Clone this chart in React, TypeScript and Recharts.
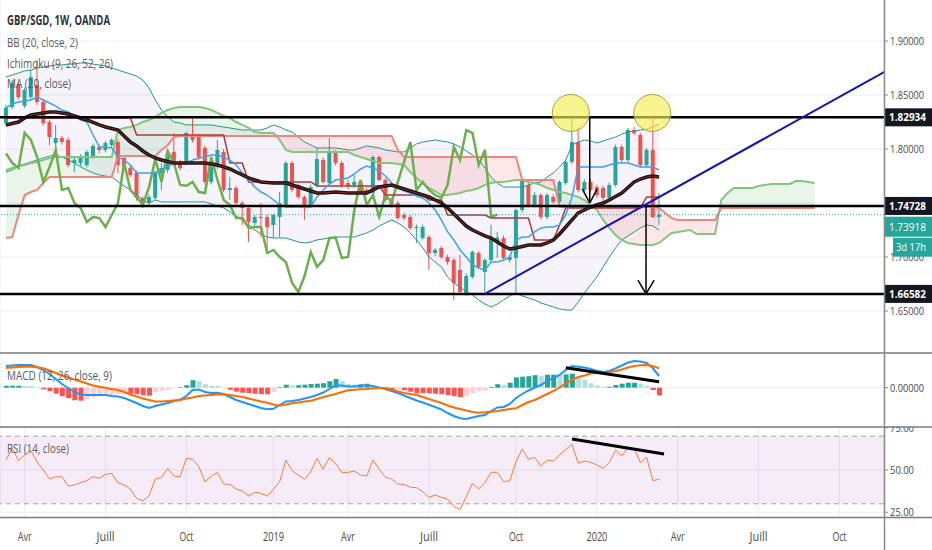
import React from 'react';
import {
  ComposedChart, Line, Area, Bar, Cell, XAxis, YAxis, CartesianGrid,
  ReferenceLine, ReferenceDot, ReferenceArea,
} from 'recharts';

// ---------- weekly candles (GBP/SGD, OANDA, 1W) ----------
const openP = [
  1.8241, 1.8389, 1.8593, 1.8400, 1.8482, 1.8593, 1.8436, 1.8250, 1.8056, 1.8102,
  1.8084, 1.7871, 1.7871, 1.7852, 1.7926, 1.8019, 1.7990, 1.8037, 1.8065, 1.7917,
  1.7824, 1.7778, 1.7547, 1.7500, 1.7547, 1.7778, 1.7806, 1.7973, 1.7880, 1.7871,
  1.8130, 1.8120, 1.8010, 1.7695, 1.7834, 1.7973, 1.7621, 1.7639, 1.7500, 1.7454,
  1.7315, 1.7371, 1.7371, 1.7297, 1.7371, 1.7482, 1.7871, 1.7667, 1.7556, 1.7482,
  1.7667, 1.7898, 1.7685, 1.7973, 1.7871, 1.7685, 1.7667, 1.7695, 1.7621, 1.7593,
  1.7926, 1.7713, 1.7528, 1.7500, 1.7389, 1.7371, 1.7269, 1.7176, 1.7185, 1.7037,
  1.7084, 1.7000, 1.6972, 1.6880, 1.6667, 1.6815, 1.7037, 1.6861, 1.6972, 1.7140,
  1.7176, 1.6972, 1.6991, 1.7435, 1.7667, 1.7482, 1.7574, 1.7371, 1.7556, 1.7510,
  1.7685, 1.7880, 1.8065, 1.7621, 1.7695, 1.7648, 1.7639, 1.7547, 1.7667, 1.8019,
  1.7898, 1.8176, 1.8130, 1.7852, 1.7991, 1.7371,
];
const highP = [
  1.8410, 1.8640, 1.8620, 1.8570, 1.8732, 1.8824, 1.8460, 1.8270, 1.8223, 1.8120,
  1.8110, 1.7920, 1.7950, 1.7990, 1.8050, 1.8040, 1.8075, 1.8100, 1.8090, 1.7935,
  1.7850, 1.7800, 1.7560, 1.7580, 1.7800, 1.7871, 1.7990, 1.8148, 1.7900, 1.8160,
  1.8297, 1.8140, 1.8030, 1.7850, 1.8084, 1.8000, 1.7741, 1.7660, 1.7520, 1.7470,
  1.7390, 1.7500, 1.7390, 1.7400, 1.7602, 1.7890, 1.7890, 1.7680, 1.7570, 1.7670,
  1.8010, 1.7920, 1.8102, 1.7990, 1.7890, 1.7710, 1.7760, 1.7710, 1.7640, 1.7940,
  1.7940, 1.7730, 1.7550, 1.7520, 1.7410, 1.7390, 1.7300, 1.7300, 1.7200, 1.7085,
  1.7100, 1.7020, 1.6990, 1.7019, 1.6850, 1.7060, 1.7055, 1.6990, 1.7297, 1.7232,
  1.7200, 1.7020, 1.7450, 1.7730, 1.7690, 1.7600, 1.7590, 1.7590, 1.7580, 1.7710,
  1.7900, 1.8297, 1.8195, 1.7720, 1.7720, 1.7670, 1.7660, 1.7690, 1.8040, 1.8040,
  1.8195, 1.8204, 1.8150, 1.8010, 1.8297, 1.7593,
];
const lowP = [
  1.8215, 1.8370, 1.8460, 1.8380, 1.8460, 1.8410, 1.8215, 1.8037, 1.7991, 1.8040,
  1.7830, 1.7787, 1.7840, 1.7830, 1.7910, 1.7960, 1.7970, 1.8010, 1.7778, 1.7810,
  1.7740, 1.7520, 1.7454, 1.7470, 1.7530, 1.7621, 1.7780, 1.7850, 1.7800, 1.7850,
  1.8060, 1.7900, 1.7670, 1.7670, 1.7810, 1.7600, 1.7528, 1.7480, 1.7297, 1.7139,
  1.7290, 1.7185, 1.7037, 1.7176, 1.7185, 1.7460, 1.7600, 1.7540, 1.7343, 1.7460,
  1.7650, 1.7680, 1.7670, 1.7850, 1.7640, 1.7630, 1.7640, 1.7580, 1.7570, 1.7560,
  1.7700, 1.7510, 1.7460, 1.7340, 1.7340, 1.7250, 1.7130, 1.7160, 1.6880, 1.7010,
  1.6980, 1.6930, 1.6602, 1.6650, 1.6640, 1.6800, 1.6890, 1.6676, 1.6950, 1.6991,
  1.6970, 1.6950, 1.6667, 1.7410, 1.7460, 1.7460, 1.7350, 1.7350, 1.7490, 1.7490,
  1.7670, 1.7860, 1.7600, 1.7600, 1.7600, 1.7550, 1.7520, 1.7520, 1.7650, 1.7870,
  1.7870, 1.8130, 1.7830, 1.7830, 1.7361, 1.7297,
];
const closeP = [
  1.8380, 1.8611, 1.8482, 1.8547, 1.8667, 1.8436, 1.8241, 1.8111, 1.8102, 1.8065,
  1.7852, 1.7898, 1.7926, 1.7973, 1.8028, 1.7991, 1.8056, 1.8084, 1.7852, 1.7834,
  1.7760, 1.7547, 1.7491, 1.7556, 1.7787, 1.7824, 1.7960, 1.7871, 1.7824, 1.8148,
  1.8084, 1.7926, 1.7695, 1.7834, 1.7991, 1.7621, 1.7639, 1.7500, 1.7454, 1.7324,
  1.7371, 1.7361, 1.7278, 1.7389, 1.7500, 1.7871, 1.7621, 1.7556, 1.7482, 1.7648,
  1.7908, 1.7695, 1.7982, 1.7871, 1.7667, 1.7660, 1.7695, 1.7602, 1.7593, 1.7926,
  1.7713, 1.7528, 1.7482, 1.7361, 1.7361, 1.7269, 1.7278, 1.7278, 1.7037, 1.7065,
  1.7000, 1.6954, 1.6759, 1.6676, 1.6824, 1.7047, 1.6908, 1.6972, 1.7176, 1.7180,
  1.6991, 1.7000, 1.7435, 1.7713, 1.7482, 1.7574, 1.7371, 1.7574, 1.7510, 1.7695,
  1.7880, 1.8065, 1.7621, 1.7695, 1.7621, 1.7574, 1.7547, 1.7667, 1.8019, 1.7898,
  1.8176, 1.8148, 1.7852, 1.7991, 1.7371, 1.7392,
];

// ---------- Bollinger Bands (20, close, 2) + MA (20, close) ----------
const bbUpper = [
  1.8667, 1.8686, 1.8704, 1.8723, 1.8732, 1.8750, 1.8760, 1.8769, 1.8778, 1.8778,
  1.8787, 1.8787, 1.8797, 1.8797, 1.8787, 1.8778, 1.8769, 1.8750, 1.8732, 1.8713,
  1.8695, 1.8676, 1.8639, 1.8565, 1.8454, 1.8361, 1.8297, 1.8250, 1.8241, 1.8223,
  1.8223, 1.8223, 1.8223, 1.8223, 1.8213, 1.8204, 1.8195, 1.8185, 1.8176, 1.8176,
  1.8176, 1.8176, 1.8195, 1.8223, 1.8204, 1.8176, 1.8158, 1.8111, 1.8065, 1.8037,
  1.8010, 1.8010, 1.8010, 1.8010, 1.8000, 1.7991, 1.7991, 1.8010, 1.8028, 1.8019,
  1.8010, 1.7991, 1.7982, 1.7973, 1.7973, 1.8010, 1.8047, 1.8065, 1.8074, 1.8084,
  1.8074, 1.8065, 1.8047, 1.8019, 1.7982, 1.7945, 1.7898, 1.7824, 1.7741, 1.7685,
  1.7648, 1.7648, 1.7648, 1.7648, 1.7667, 1.7685, 1.7695, 1.7741, 1.7778, 1.7834,
  1.7898, 1.8037, 1.8065, 1.8084, 1.8074, 1.8056, 1.8074, 1.8093, 1.8111, 1.8139,
  1.8158, 1.8167, 1.8176, 1.8185, 1.8204, 1.8232,
];
const bbLower = [
  1.7787, 1.7806, 1.7843, 1.7861, 1.7880, 1.7898, 1.7917, 1.7935, 1.7945, 1.7926,
  1.7898, 1.7871, 1.7834, 1.7806, 1.7778, 1.7760, 1.7750, 1.7741, 1.7695, 1.7658,
  1.7621, 1.7574, 1.7528, 1.7500, 1.7528, 1.7510, 1.7510, 1.7510, 1.7510, 1.7510,
  1.7510, 1.7510, 1.7510, 1.7491, 1.7472, 1.7454, 1.7417, 1.7380, 1.7343, 1.7297,
  1.7250, 1.7213, 1.7185, 1.7176, 1.7176, 1.7176, 1.7158, 1.7139, 1.7130, 1.7139,
  1.7158, 1.7167, 1.7176, 1.7185, 1.7185, 1.7185, 1.7185, 1.7204, 1.7222, 1.7250,
  1.7287, 1.7315, 1.7343, 1.7315, 1.7278, 1.7222, 1.7158, 1.7084, 1.7000, 1.6954,
  1.6908, 1.6815, 1.6759, 1.6722, 1.6676, 1.6648, 1.6602, 1.6565, 1.6537, 1.6565,
  1.6602, 1.6639, 1.6667, 1.6639, 1.6621, 1.6602, 1.6574, 1.6556, 1.6537, 1.6519,
  1.6509, 1.6509, 1.6583, 1.6667, 1.6741, 1.6815, 1.6908, 1.7000, 1.7084, 1.7158,
  1.7195, 1.7232, 1.7269, 1.7297, 1.7287, 1.7250,
];
const ma20 = [
  1.8223, 1.8236, 1.8250, 1.8287, 1.8315, 1.8324, 1.8334, 1.8343, 1.8343, 1.8334,
  1.8324, 1.8306, 1.8287, 1.8269, 1.8246, 1.8223, 1.8204, 1.8190, 1.8176, 1.8121,
  1.8065, 1.8028, 1.7982, 1.7945, 1.7917, 1.7898, 1.7884, 1.7871, 1.7871, 1.7871,
  1.7871, 1.7871, 1.7871, 1.7861, 1.7852, 1.7834, 1.7815, 1.7787, 1.7760, 1.7732,
  1.7713, 1.7695, 1.7690, 1.7685, 1.7685, 1.7685, 1.7667, 1.7648, 1.7630, 1.7611,
  1.7593, 1.7593, 1.7597, 1.7602, 1.7597, 1.7593, 1.7593, 1.7593, 1.7593, 1.7621,
  1.7648, 1.7658, 1.7667, 1.7648, 1.7630, 1.7611, 1.7593, 1.7574, 1.7556, 1.7528,
  1.7500, 1.7454, 1.7398, 1.7343, 1.7287, 1.7250, 1.7222, 1.7195, 1.7176, 1.7139,
  1.7102, 1.7074, 1.7084, 1.7097, 1.7111, 1.7111, 1.7111, 1.7130, 1.7158, 1.7213,
  1.7278, 1.7343, 1.7408, 1.7435, 1.7463, 1.7482, 1.7500, 1.7528, 1.7560, 1.7593,
  1.7644, 1.7695, 1.7722, 1.7741, 1.7750, 1.7741,
];

// ---------- Ichimoku (9, 26, 52, 26) ----------
const tenkan = [
  1.8380, 1.8417, 1.8436, 1.8445, 1.8454, 1.8482, 1.8454, 1.8426, 1.8398, 1.8361,
  1.8343, 1.8306, 1.8269, 1.8250, 1.8130, 1.8019, 1.8019, 1.8010, 1.7926, 1.7898,
  1.7852, 1.7778, 1.7778, 1.7778, 1.7778, 1.7806, 1.7834, 1.7871, 1.7871, 1.7871,
  1.7898, 1.7917, 1.7926, 1.7945, 1.7945, 1.7926, 1.7898, 1.7852, 1.7778, 1.7713,
  1.7648, 1.7602, 1.7574, 1.7528, 1.7482, 1.7463, 1.7463, 1.7463, 1.7463, 1.7463,
  1.7556, 1.7621, 1.7676, 1.7713, 1.7722, 1.7732, 1.7769, 1.7815, 1.7843, 1.7824,
  1.7797, 1.7750, 1.7685, 1.7639, 1.7611, 1.7593, 1.7565, 1.7547, 1.7500, 1.7435,
  1.7343, 1.7232, 1.7158, 1.7065, 1.7000, 1.6926, 1.6898, 1.6880, 1.6954, 1.6954,
  1.6972, 1.7000, 1.7158, 1.7185, 1.7185, 1.7232, 1.7269, 1.7278, 1.7278, 1.7297,
  1.7389, 1.7556, 1.7834, 1.7834, 1.7834, 1.7834, 1.7834, 1.7852, 1.7871, 1.7871,
  1.7871, 1.7852, 1.7834, 1.7834, 1.7834, 1.7806,
];
const kijun = [
  1.8287, 1.8287, 1.8287, 1.8287, 1.8287, 1.8287, 1.8287, 1.8287, 1.8287, 1.8287,
  1.8287, 1.8287, 1.8287, 1.8287, 1.8287, 1.8287, 1.8287, 1.8287, 1.8287, 1.8287,
  1.8287, 1.8130, 1.8130, 1.8130, 1.8130, 1.8130, 1.8130, 1.8130, 1.8130, 1.8130,
  1.8130, 1.8130, 1.8130, 1.8130, 1.8130, 1.8130, 1.7871, 1.7871, 1.7871, 1.7695,
  1.7695, 1.7695, 1.7695, 1.7695, 1.7695, 1.7695, 1.7695, 1.7695, 1.7695, 1.7695,
  1.7658, 1.7658, 1.7658, 1.7658, 1.7658, 1.7658, 1.7658, 1.7658, 1.7658, 1.7658,
  1.7658, 1.7574, 1.7574, 1.7574, 1.7574, 1.7574, 1.7574, 1.7574, 1.7528, 1.7528,
  1.7528, 1.7389, 1.7389, 1.7389, 1.7389, 1.7389, 1.7389, 1.7389, 1.7361, 1.7361,
  1.7361, 1.7361, 1.7361, 1.7361, 1.7361, 1.7158, 1.7158, 1.7158, 1.7158, 1.7297,
  1.7454, 1.7454, 1.7454, 1.7454, 1.7454, 1.7454, 1.7454, 1.7454, 1.7454, 1.7454,
  1.7454, 1.7454, 1.7454, 1.7556, 1.7556, 1.7556,
];
// leading spans (plotted 26 weeks ahead, so they run to index 130)
const spanA = [
  1.7806, 1.7824, 1.7843, 1.7852, 1.7871, 1.7880, 1.7898, 1.7917, 1.7926, 1.7926,
  1.7926, 1.7926, 1.7926, 1.7926, 1.7926, 1.7926, 1.7926, 1.7926, 1.8176, 1.8195,
  1.8204, 1.8223, 1.8250, 1.8269, 1.8297, 1.8334, 1.8361, 1.8380, 1.8389, 1.8389,
  1.8389, 1.8389, 1.8380, 1.8361, 1.8334, 1.8306, 1.8287, 1.8250, 1.8223, 1.8195,
  1.8158, 1.8148, 1.8148, 1.8148, 1.8084, 1.7991, 1.7973, 1.7973, 1.7973, 1.7973,
  1.7973, 1.7973, 1.7973, 1.7973, 1.7973, 1.7973, 1.7945, 1.7926, 1.7908, 1.7889,
  1.7871, 1.7871, 1.7871, 1.7861, 1.7852, 1.7787, 1.7732, 1.7685, 1.7639, 1.7611,
  1.7574, 1.7574, 1.7584, 1.7593, 1.7611, 1.7621, 1.7639, 1.7667, 1.7685, 1.7695,
  1.7695, 1.7704, 1.7713, 1.7713, 1.7695, 1.7685, 1.7667, 1.7639, 1.7621, 1.7602,
  1.7593, 1.7574, 1.7556, 1.7528, 1.7482, 1.7435, 1.7343, 1.7269, 1.7204, 1.7158,
  1.7130, 1.7121, 1.7111, 1.7111, 1.7111, 1.7130, 1.7176, 1.7222, 1.7232, 1.7241,
  1.7250, 1.7213, 1.7213, 1.7213, 1.7213, 1.7528, 1.7593, 1.7639, 1.7639, 1.7639,
  1.7639, 1.7658, 1.7667, 1.7676, 1.7676, 1.7676, 1.7676, 1.7704, 1.7704, 1.7695,
  1.7685,
];
const spanB = [
  1.7176, 1.7185, 1.7389, 1.7574, 1.7602, 1.7621, 1.7685, 1.7741, 1.7741, 1.7741,
  1.7741, 1.7741, 1.7741, 1.7741, 1.7741, 1.7741, 1.7741, 1.7741, 1.7935, 1.7935,
  1.7935, 1.7935, 1.7935, 1.7935, 1.7935, 1.7991, 1.8037, 1.8111, 1.8121, 1.8121,
  1.8121, 1.8121, 1.8121, 1.8121, 1.8121, 1.8121, 1.8121, 1.8121, 1.8121, 1.8121,
  1.8121, 1.8121, 1.8121, 1.8121, 1.8121, 1.8121, 1.8121, 1.8121, 1.8121, 1.8121,
  1.8121, 1.8121, 1.8121, 1.8121, 1.8121, 1.8121, 1.8121, 1.8121, 1.8121, 1.8121,
  1.8121, 1.8121, 1.8121, 1.7991, 1.7926, 1.7926, 1.7926, 1.7926, 1.7926, 1.7926,
  1.7926, 1.7926, 1.7926, 1.7926, 1.7926, 1.7926, 1.7926, 1.7926, 1.7926, 1.7926,
  1.7926, 1.7926, 1.7926, 1.7713, 1.7713, 1.7713, 1.7713, 1.7713, 1.7713, 1.7463,
  1.7463, 1.7463, 1.7463, 1.7463, 1.7463, 1.7463, 1.7463, 1.7463, 1.7463, 1.7463,
  1.7463, 1.7463, 1.7463, 1.7463, 1.7463, 1.7454, 1.7408, 1.7361, 1.7343, 1.7343,
  1.7343, 1.7343, 1.7343, 1.7343, 1.7343, 1.7454, 1.7454, 1.7454, 1.7454, 1.7454,
  1.7454, 1.7454, 1.7454, 1.7454, 1.7454, 1.7454, 1.7454, 1.7454, 1.7454, 1.7454,
  1.7454,
];
const LAG = 26;

// ---------- MACD (12, 26, close, 9) ----------
const macdLine = [
  0.01085, 0.0111, 0.01135, 0.01135, 0.01135, 0.01035, 0.00885, 0.00685, 0.00435, 0.00185,
  -0.00015, -0.00215, -0.0034, -0.00365, -0.00365, -0.00365, -0.00365, -0.00415, -0.0044, -0.00515,
  -0.0064, -0.00765, -0.00915, -0.01015, -0.00915, -0.0084, -0.00765, -0.00665, -0.0059, -0.00415,
  -0.00115, -0.0009, -0.00215, -0.00265, -0.0025, -0.00315, -0.00465, -0.00615, -0.00715, -0.00815,
  -0.00915, -0.01015, -0.0108, -0.0105, -0.00865, -0.0069, -0.00665, -0.00615, -0.0054, -0.00465,
  -0.00365, -0.0024, -0.00065, 0.0012, 0.0011, 0.0006, 0.0006, 0.00095, 0.00135, 0.0007,
  0.0001, -0.00065, -0.00165, -0.00265, -0.0039, -0.00515, -0.0064, -0.0074, -0.0085, -0.00965,
  -0.0109, -0.01265, -0.01415, -0.0153, -0.01565, -0.0149, -0.01415, -0.01365, -0.01165, -0.0099,
  -0.00965, -0.00815, -0.00515, -0.00315, -0.0014, 0.0001, 0.00135, 0.00335, 0.00485, 0.00635,
  0.00885, 0.01085, 0.01045, 0.0101, 0.00935, 0.00845, 0.00785, 0.00835, 0.0097, 0.0111,
  0.0126, 0.01335, 0.0131, 0.01235, 0.0097, 0.00585,
];
const signalLine = [
  0.00985, 0.0101, 0.01035, 0.01045, 0.0105, 0.0102, 0.0097, 0.0086, 0.00735, 0.0061,
  0.0051, 0.0041, 0.0031, 0.0021, 0.0011, 0.0005, -0.00005, -0.00065, -0.00115, -0.00215,
  -0.0034, -0.0044, -0.0054, -0.00615, -0.0069, -0.0069, -0.00665, -0.0064, -0.00615, -0.0054,
  -0.0049, -0.00415, -0.0039, -0.00365, -0.0034, -0.0033, -0.00365, -0.00415, -0.00465, -0.0054,
  -0.00615, -0.0069, -0.0075, -0.0084, -0.009, -0.0084, -0.0078, -0.0074, -0.0069, -0.0065,
  -0.00565, -0.00465, -0.0039, -0.00315, -0.00215, -0.0013, -0.001, -0.0008, -0.00065, -0.0004,
  -0.00015, -0.00015, -0.0009, -0.0019, -0.00265, -0.00315, -0.00365, -0.00465, -0.00565, -0.00665,
  -0.00765, -0.0089, -0.0099, -0.01065, -0.0114, -0.01215, -0.0125, -0.0123, -0.01205, -0.01165,
  -0.01115, -0.01065, -0.0103, -0.00865, -0.00715, -0.00615, -0.00465, -0.00315, -0.00165, 0.0001,
  0.0022, 0.00385, 0.00535, 0.0061, 0.0071, 0.00735, 0.00745, 0.00785, 0.00835, 0.0091,
  0.0101, 0.01085, 0.0112, 0.01135, 0.01085, 0.0097,
];

// ---------- RSI (14, close) ----------
const rsi14 = [
  55.9, 62.8, 55.5, 58.9, 61.4, 54.9, 50.0, 44.7, 46.0, 46.0,
  40.5, 41.1, 42.5, 43.7, 46.0, 45.1, 47.4, 48.0, 42.5, 41.1,
  38.8, 33.2, 31.7, 34.8, 44.7, 45.5, 51.0, 46.4, 46.0, 56.9,
  56.3, 52.0, 43.1, 46.4, 48.6, 41.7, 41.5, 38.8, 37.6, 34.6,
  36.8, 36.2, 34.6, 38.6, 43.1, 55.9, 49.6, 47.0, 44.5, 49.0,
  56.9, 50.4, 57.5, 53.6, 48.6, 48.6, 49.4, 47.0, 46.4, 55.9,
  50.4, 45.7, 44.7, 41.7, 41.5, 39.8, 39.6, 37.2, 33.8, 35.2,
  33.8, 32.8, 28.3, 26.7, 34.2, 42.1, 38.8, 42.5, 48.6, 48.6,
  43.1, 43.7, 54.9, 62.4, 56.3, 57.5, 52.4, 55.9, 55.3, 58.9,
  62.2, 65.2, 54.0, 55.3, 54.5, 53.0, 51.0, 54.3, 61.8, 58.3,
  63.4, 62.4, 54.5, 57.5, 43.7, 44.5,
];

// ---------- axes / labels ----------
const xTickIdx = [3, 16, 29, 43, 55, 68, 82, 95, 108, 121, 134];
const xTickLabels = ['Avr', 'Juill', 'Oct', '2019', 'Avr', 'Juill', 'Oct', '2020', 'Avr', 'Juill', 'Oct'];
const priceTicks = [1.65, 1.7, 1.75, 1.8, 1.85, 1.9];
const coveredTicks = [1.75];
const levels = [1.82934, 1.74728, 1.66582];
const lastPrice = 1.73918;
const countdown = '3d 17h';
const macdTicks = [0];
const rsiTicks = [25, 50, 75];
const rsiBand = [30, 70];
const titles = ['GBP/SGD, 1W, OANDA', 'BB (20, close, 2)', 'Ichimoku (9, 26, 52, 26)', 'MA (20, close)'];
const paneTitles = ['MACD (12, 26, close, 9)', 'RSI (14, close)'];

// ---------- user drawings (in data coordinates: week index, value) ----------
const trendLine = [{ x: 77.0, y: 1.66582 }, { x: 145, y: 1.8836 }];
const highlightCircles = [{ x: 90.8, y: 1.8334 }, { x: 103.9, y: 1.8334 }];
const arrows = [
  { x: 93.85, from: 1.82934, to: 1.7500, head: 1.7630, dx: 1.2 },
  { x: 102.9, from: 1.74728, to: 1.66582, head: 1.6787, dx: 1.3 },
];
const macdDivergence = [{ x: 90.0, y: 0.0100 }, { x: 105.0, y: 0.0030 }];
const rsiDivergence = [{ x: 91.0, y: 68.3 }, { x: 105.8, y: 59.5 }];

// ---------- layout ----------
const W = 932;
const AXIS_W = 48;
const AX = W - AXIS_W;
const X_DOMAIN: [number, number] = [-0.965, 141.16];
const PRICE_DOMAIN: [number, number] = [1.6111, 1.938];
const MACD_DOMAIN: [number, number] = [-0.01965, 0.01735];
const RSI_DOMAIN: [number, number] = [22.19, 75.44];
const GRID = '#E9EDF3';
const FONT = "'Open Sans', 'DejaVu Sans', sans-serif";
const TXT = '#4A4A4A';

const NROWS = spanA.length;
const rows = Array.from({ length: NROWS }, (_, i) => {
  const has = i < openP.length;
  const a = spanA[i];
  const b = spanB[i];
  const top = Math.max(a, b);
  return {
    i,
    candle: has ? [lowP[i], highP[i]] : null,
    o: has ? openP[i] : null,
    h: has ? highP[i] : null,
    l: has ? lowP[i] : null,
    c: has ? closeP[i] : null,
    bbBand: has ? [bbLower[i], bbUpper[i]] : null,
    bbU: has ? bbUpper[i] : null,
    bbL: has ? bbLower[i] : null,
    ma: has ? ma20[i] : null,
    tenkan: has ? tenkan[i] : null,
    kijun: has ? kijun[i] : null,
    lag: i + LAG < closeP.length ? closeP[i + LAG] : null,
    spanA: a,
    spanB: b,
    cloudUp: [b, top],
    cloudDown: [a, top],
  };
});

const macdRows = macdLine.map((m, i) => {
  const h = m - signalLine[i];
  const prev = i > 0 ? macdLine[i - 1] - signalLine[i - 1] : h;
  let color;
  if (h >= 0) color = h >= prev ? '#26A69A' : '#B2DFDB';
  else color = h < prev ? '#FF5252' : '#FFCDD2';
  return { i, macd: m, signal: signalLine[i], hist: h, color };
});

const rsiRows = rsi14.map((r, i) => ({ i, rsi: r }));

// ---------- custom shapes ----------
function Candle(props: any) {
  const { x, y, width, height, payload } = props;
  if (!payload || payload.o == null || x == null || y == null) return null;
  const { o, h, l, c } = payload;
  const up = c >= o;
  const color = up ? '#26A69A' : '#EF5350';
  const top = Math.min(y, y + height);
  const bot = Math.max(y, y + height);
  const span = h - l || 1e-9;
  const yOf = (v: number) => top + ((h - v) / span) * (bot - top);
  const cx = x + width / 2;
  const bTop = yOf(Math.max(o, c));
  const bBot = yOf(Math.min(o, c));
  return (
    <g>
      <line x1={cx} x2={cx} y1={top} y2={bot} stroke={color} strokeWidth={1} />
      <rect x={x} y={bTop} width={width} height={Math.max(1, bBot - bTop)} fill={color} />
    </g>
  );
}

function AxisText({ x, y, children, fill = TXT, len, weight = 400 }: any) {
  return (
    <text x={x} y={y} fill={fill} fontSize={11} fontFamily={FONT} fontWeight={weight}
      textLength={len} lengthAdjust="spacingAndGlyphs">{children}</text>
  );
}

function PriceTick(p: any) {
  const v: number = p.payload.value;
  const y: number = p.y;
  const label = v.toFixed(5);
  if (levels.some((l) => Math.abs(l - v) < 1e-9)) {
    return (
      <g>
        <rect x={AX} y={y - 9} width={AXIS_W} height={18} fill="#131722" />
        <AxisText x={AX + 5} y={y + 4} fill="#fff" len={37} weight={700}>{label}</AxisText>
      </g>
    );
  }
  if (Math.abs(v - lastPrice) < 1e-9) {
    const cy = y + 12;
    return (
      <g>
        <rect x={AX} y={cy - 10} width={AXIS_W} height={20} fill="#26A69A" />
        <AxisText x={AX + 5} y={cy + 4} fill="#fff" len={37}>{label}</AxisText>
        <rect x={AX + 9} y={cy + 11} width={AXIS_W - 9} height={19} fill="#26A69A" />
        <AxisText x={AX + 12} y={cy + 24.5} fill="#fff" len={30}>{countdown}</AxisText>
      </g>
    );
  }
  const covered = coveredTicks.some((t) => Math.abs(t - v) < 1e-9);
  return (
    <g>
      <line x1={AX} x2={AX + 4} y1={y} y2={y} stroke="#888" />
      {covered ? null : <AxisText x={AX + 6} y={y + 4} len={34}>{label}</AxisText>}
    </g>
  );
}

function MacdTick(p: any) {
  const v: number = p.payload.value;
  return (
    <g>
      <line x1={AX} x2={AX + 4} y1={p.y} y2={p.y} stroke="#888" />
      <AxisText x={AX + 6} y={p.y + 4} len={34}>{v.toFixed(5)}</AxisText>
    </g>
  );
}

function RsiTick(p: any) {
  const v: number = p.payload.value;
  return (
    <g>
      <line x1={AX} x2={AX + 4} y1={p.y} y2={p.y} stroke="#888" />
      <AxisText x={AX + 6} y={p.y + 4} len={24}>{v.toFixed(2)}</AxisText>
    </g>
  );
}

function DateTick(p: any) {
  const k = xTickIdx.indexOf(p.payload.value);
  const label = k >= 0 ? xTickLabels[k] : '';
  const len = /^\d{4}$/.test(label) ? 21 : label === 'Juill' ? 18 : 14;
  return (
    <text x={p.x} y={114} textAnchor="middle" fill={TXT} fontSize={12} fontFamily={FONT}
      textLength={len} lengthAdjust="spacingAndGlyphs">{label}</text>
  );
}

const lineProps = { dot: false, activeDot: false, isAnimationActive: false, connectNulls: false } as const;

function Legend({ x, y, len, bold, children }: any) {
  return (
    <text x={x} y={y} fontSize={13.5} fontWeight={bold ? 700 : 400} fill={bold ? '#333' : '#5A5A5A'}
      fontFamily={FONT} textLength={len} lengthAdjust="spacingAndGlyphs">{children}</text>
  );
}

export default function App() {
  return (
    <div style={{ position: 'absolute', left: 0, top: 0, width: W, height: 550, background: '#fff', overflow: 'hidden', fontFamily: FONT }}>
      {/* main price pane */}
      <div style={{ position: 'absolute', left: 0, top: 0 }}>
        <ComposedChart width={W} height={353} data={rows} margin={{ top: 0, right: 0, bottom: 0, left: 0 }}>
          <CartesianGrid stroke={GRID} horizontalValues={priceTicks} />
          <XAxis dataKey="i" type="number" domain={X_DOMAIN} allowDataOverflow ticks={xTickIdx}
            height={0} tick={false} axisLine={false} tickLine={false} />
          <YAxis orientation="right" width={AXIS_W} domain={PRICE_DOMAIN} allowDataOverflow
            ticks={[...priceTicks, ...levels, lastPrice]} interval={0}
            tick={(p: any) => <PriceTick {...p} />} axisLine={false} tickLine={false} />
          <Area dataKey="bbBand" stroke="none" fill="#7E57C2" fillOpacity={0.07} isAnimationActive={false} activeDot={false} />
          <Area dataKey="cloudUp" stroke="none" fill="#4CAF50" fillOpacity={0.13} isAnimationActive={false} activeDot={false} />
          <Area dataKey="cloudDown" stroke="none" fill="#F44336" fillOpacity={0.12} isAnimationActive={false} activeDot={false} />
          <Bar dataKey="candle" barSize={4} shape={(p: any) => <Candle {...p} />} isAnimationActive={false} />
          <Line dataKey="bbU" stroke="#23958C" strokeWidth={1} {...lineProps} />
          <Line dataKey="bbL" stroke="#23958C" strokeWidth={1} {...lineProps} />
          <Line dataKey="spanA" stroke="#86C67C" strokeWidth={2} {...lineProps} />
          <Line dataKey="spanB" stroke="#F0857E" strokeWidth={2} {...lineProps} />
          <Line dataKey="lag" stroke="#6DAF4E" strokeWidth={2.5} {...lineProps} />
          <Line dataKey="kijun" stroke="#A83C3C" strokeWidth={1.5} {...lineProps} />
          <Line dataKey="tenkan" stroke="#3DA2EC" strokeWidth={1.5} {...lineProps} />
          <Line dataKey="ma" stroke="#111" strokeWidth={3.5} {...lineProps} />
          <Line dataKey="ma" stroke="#8A2626" strokeWidth={1} {...lineProps} />
          {levels.map((lv) => (
            <ReferenceLine key={lv} y={lv} stroke="#000" strokeWidth={2.5} />
          ))}
          <ReferenceLine y={lastPrice} stroke="#26A69A" strokeDasharray="1 2" strokeWidth={1} />
          <ReferenceLine segment={trendLine} stroke="#1414B4" strokeWidth={2} ifOverflow="hidden" />
          {highlightCircles.map((c, k) => (
            <ReferenceDot key={k} x={c.x} y={c.y} r={18.5} fill="#F2EE55" fillOpacity={0.65}
              stroke="#A9A53A" strokeWidth={1} />
          ))}
          {arrows.map((a, k) => [
            <ReferenceLine key={`s${k}`} segment={[{ x: a.x, y: a.from }, { x: a.x, y: a.to }]} stroke="#000" strokeWidth={1.5} />,
            <ReferenceLine key={`l${k}`} segment={[{ x: a.x - a.dx, y: a.head }, { x: a.x, y: a.to }]} stroke="#000" strokeWidth={1.5} />,
            <ReferenceLine key={`r${k}`} segment={[{ x: a.x + a.dx, y: a.head }, { x: a.x, y: a.to }]} stroke="#000" strokeWidth={1.5} />,
          ])}
        </ComposedChart>
      </div>

      {/* MACD pane */}
      <div style={{ position: 'absolute', left: 0, top: 353 }}>
        <ComposedChart width={W} height={74} data={macdRows} margin={{ top: 0, right: 0, bottom: 0, left: 0 }}>
          <CartesianGrid stroke={GRID} horizontalValues={macdTicks} />
          <XAxis dataKey="i" type="number" domain={X_DOMAIN} allowDataOverflow ticks={xTickIdx}
            height={0} tick={false} axisLine={false} tickLine={false} />
          <YAxis orientation="right" width={AXIS_W} domain={MACD_DOMAIN} allowDataOverflow
            ticks={macdTicks} interval={0} tick={(p: any) => <MacdTick {...p} />} axisLine={false} tickLine={false} />
          <Bar dataKey="hist" barSize={5} isAnimationActive={false}>
            {macdRows.map((r) => <Cell key={r.i} fill={r.color} />)}
          </Bar>
          <Line dataKey="macd" stroke="#2196F3" strokeWidth={2} {...lineProps} />
          <Line dataKey="signal" stroke="#FF6D00" strokeWidth={2} {...lineProps} />
          <ReferenceLine segment={macdDivergence} stroke="#000" strokeWidth={3} />
        </ComposedChart>
      </div>

      {/* RSI pane + time axis */}
      <div style={{ position: 'absolute', left: 0, top: 427 }}>
        <ComposedChart width={W} height={123} data={rsiRows} margin={{ top: 0, right: 0, bottom: 0, left: 0 }}>
          <CartesianGrid stroke={GRID} horizontalValues={rsiTicks} />
          <ReferenceArea y1={rsiBand[0]} y2={rsiBand[1]} fill="#9C27B0" fillOpacity={0.09} stroke="none" />
          {rsiBand.map((b) => (
            <ReferenceLine key={b} y={b} stroke="#A3A3A3" strokeDasharray="5 4" strokeWidth={1} />
          ))}
          <XAxis dataKey="i" type="number" domain={X_DOMAIN} allowDataOverflow ticks={xTickIdx} interval={0}
            height={33} tick={(p: any) => <DateTick {...p} />} axisLine={false} tickLine={false} />
          <YAxis orientation="right" width={AXIS_W} domain={RSI_DOMAIN} allowDataOverflow
            ticks={rsiTicks} interval={0} tick={(p: any) => <RsiTick {...p} />} axisLine={false} tickLine={false} />
          <Line dataKey="rsi" stroke="#F57A3B" strokeWidth={1} {...lineProps} />
          <ReferenceLine segment={rsiDivergence} stroke="#000" strokeWidth={3} />
        </ComposedChart>
      </div>

      {/* pane frames and legends */}
      <svg width={W} height={550} style={{ position: 'absolute', left: 0, top: 0, pointerEvents: 'none' }}>
        <line x1={0} x2={W} y1={353} y2={353} stroke="#7A7A7A" strokeWidth={1.5} />
        <line x1={0} x2={W} y1={427} y2={427} stroke="#7A7A7A" strokeWidth={1.5} />
        <line x1={0} x2={W} y1={517.5} y2={517.5} stroke="#7A7A7A" strokeWidth={1.5} />
        <line x1={AX + 0.5} x2={AX + 0.5} y1={0} y2={550} stroke="#8A8A8A" strokeWidth={1.5} />
        <Legend x={7} y={25} len={103} bold>{titles[0]}</Legend>
        <Legend x={7} y={46.5} len={71}>{titles[1]}</Legend>
        <Legend x={7} y={68} len={106}>{titles[2]}</Legend>
        <Legend x={7} y={87.5} len={64}>{titles[3]}</Legend>
        <Legend x={7} y={379.5} len={105}>{paneTitles[0]}</Legend>
        <Legend x={7} y={452.5} len={62}>{paneTitles[1]}</Legend>
      </svg>
    </div>
  );
}
